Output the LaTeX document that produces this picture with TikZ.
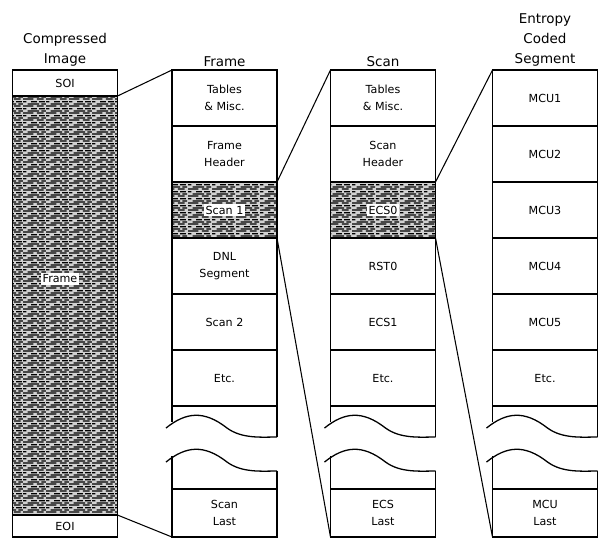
\documentclass[tikz,border=0pt]{standalone}
\usepackage{fontspec}
\setmainfont{DejaVu Sans}
\usetikzlibrary{positioning,patterns}

% scanned, streaky fill for the coded data
\pgfdeclarepatternformonly{scanstreaks}{\pgfpointorigin}{\pgfpoint{20pt}{6pt}}{\pgfpoint{20pt}{6pt}}{%
  \pgfsetlinewidth{1.2pt}
  \pgfpathmoveto{\pgfpoint{0pt}{1pt}}\pgfpathlineto{\pgfpoint{9pt}{1pt}}
  \pgfpathmoveto{\pgfpoint{12pt}{1pt}}\pgfpathlineto{\pgfpoint{18pt}{1pt}}
  \pgfpathmoveto{\pgfpoint{4pt}{3pt}}\pgfpathlineto{\pgfpoint{14pt}{3pt}}
  \pgfpathmoveto{\pgfpoint{16pt}{3pt}}\pgfpathlineto{\pgfpoint{20pt}{3pt}}
  \pgfpathmoveto{\pgfpoint{0pt}{5pt}}\pgfpathlineto{\pgfpoint{3pt}{5pt}}
  \pgfpathmoveto{\pgfpoint{7pt}{5pt}}\pgfpathlineto{\pgfpoint{12pt}{5pt}}
  \pgfpathmoveto{\pgfpoint{14pt}{5pt}}\pgfpathlineto{\pgfpoint{19pt}{5pt}}
  \pgfusepath{stroke}}

\tikzset{cell/.style={draw,line width=1.1pt,outer sep=0pt,minimum width=3.15cm,minimum height=1.68cm,align=center,font=\fontsize{9.5}{14}\selectfont}}
\tikzset{coded/.style={cell,pattern=scanstreaks,preaction={fill=black!18}}}

% open section of a column, cut by two wavy lines
\newcommand{\gapbreak}[1]{%
  \begin{scope}[shift={(#1.south west)},line width=1.1pt]
    \draw (0,0) -- (0,16);
    \draw (105,0) -- (105,31);
    \draw (-6,22) .. controls (14,6) and (32,4) .. (55,22) .. controls (70,33) and (90,31) .. (105,31);
    \draw (-6,56) .. controls (14,40) and (32,38) .. (55,56) .. controls (70,67) and (90,65) .. (105,65);
    \draw (0,50) -- (0,83);
    \draw (105,65) -- (105,83);
  \end{scope}}

\begin{document}
\begin{tikzpicture}[
    x=0.03cm, y=-0.03cm,
    head/.style={align=center,inner sep=2pt,font=\fontsize{11.5}{17}\selectfont},
    tag/.style={fill=white,inner sep=1.5pt,font=\fontsize{9.5}{11}\selectfont},
    link/.style={line width=0.9pt}
  ]
  \useasboundingbox (0,0) rectangle (599,548);

  % Compressed image
  \node (soi)   [cell, minimum height=0.78cm, anchor=north] at (65,70) {SOI};
  \node (image) [coded, minimum height=12.57cm, below=0pt of soi] {};
  \node (eoi)   [cell, minimum height=0.66cm, below=0pt of image] {EOI};
  \node (imageTag) [tag] at (60,279) {Frame};
  \node (imageHead) [head, above=1pt of soi] {Compressed\\Image};

  % Frame
  \node (fTables)  [cell, anchor=north] at (224.5,70) {Tables\\\& Misc.};
  \node (fHeader)  [cell, below=0pt of fTables] {Frame\\Header};
  \node (fScanOne) [coded, below=0pt of fHeader] {};
  \node (fDnl)     [cell, below=0pt of fScanOne] {DNL\\Segment};
  \node (fScanTwo) [cell, below=0pt of fDnl] {Scan 2};
  \node (fEtc)     [cell, below=0pt of fScanTwo] {Etc.};
  \node (fLast)    [cell, minimum height=1.44cm, below=2.49cm of fEtc] {Scan\\Last};
  \node (fScanTag) [tag] at (fScanOne) {Scan 1};
  \node (frameHead) [head, above=1pt of fTables] {Frame};
  \gapbreak{fEtc}

  % Scan
  \node (sTables)  [cell, anchor=north] at (383,70) {Tables\\\& Misc.};
  \node (sHeader)  [cell, below=0pt of sTables] {Scan\\Header};
  \node (sEcsZero) [coded, below=0pt of sHeader] {};
  \node (sRst)     [cell, below=0pt of sEcsZero] {RST0};
  \node (sEcsOne)  [cell, below=0pt of sRst] {ECS1};
  \node (sEtc)     [cell, below=0pt of sEcsOne] {Etc.};
  \node (sLast)    [cell, minimum height=1.44cm, below=2.49cm of sEtc] {ECS\\Last};
  \node (sEcsTag)  [tag] at (sEcsZero) {ECS0};
  \node (scanHead) [head, above=1pt of sTables] {Scan};
  \gapbreak{sEtc}

  % Entropy coded segment
  \node (eMcuOne)   [cell, anchor=north] at (545,70) {MCU1};
  \node (eMcuTwo)   [cell, below=0pt of eMcuOne] {MCU2};
  \node (eMcuThree) [cell, below=0pt of eMcuTwo] {MCU3};
  \node (eMcuFour)  [cell, below=0pt of eMcuThree] {MCU4};
  \node (eMcuFive)  [cell, below=0pt of eMcuFour] {MCU5};
  \node (eEtc)      [cell, below=0pt of eMcuFive] {Etc.};
  \node (eLast)     [cell, minimum height=1.44cm, below=2.49cm of eEtc] {MCU\\Last};
  \node (ecsHead)   [head, above=1pt of eMcuOne] {Entropy\\Coded\\Segment};
  \gapbreak{eEtc}

  % expansion lines
  \draw[link] (soi.south east) -- (fTables.north west);
  \draw[link] (eoi.north east) -- (fLast.south west);
  \draw[link] (fScanOne.north east) -- (sTables.north west);
  \draw[link] (fScanOne.south east) -- (sLast.south west);
  \draw[link] (sEcsZero.north east) -- (eMcuOne.north west);
  \draw[link] (sEcsZero.south east) -- (eLast.south west);
\end{tikzpicture}
\end{document}
